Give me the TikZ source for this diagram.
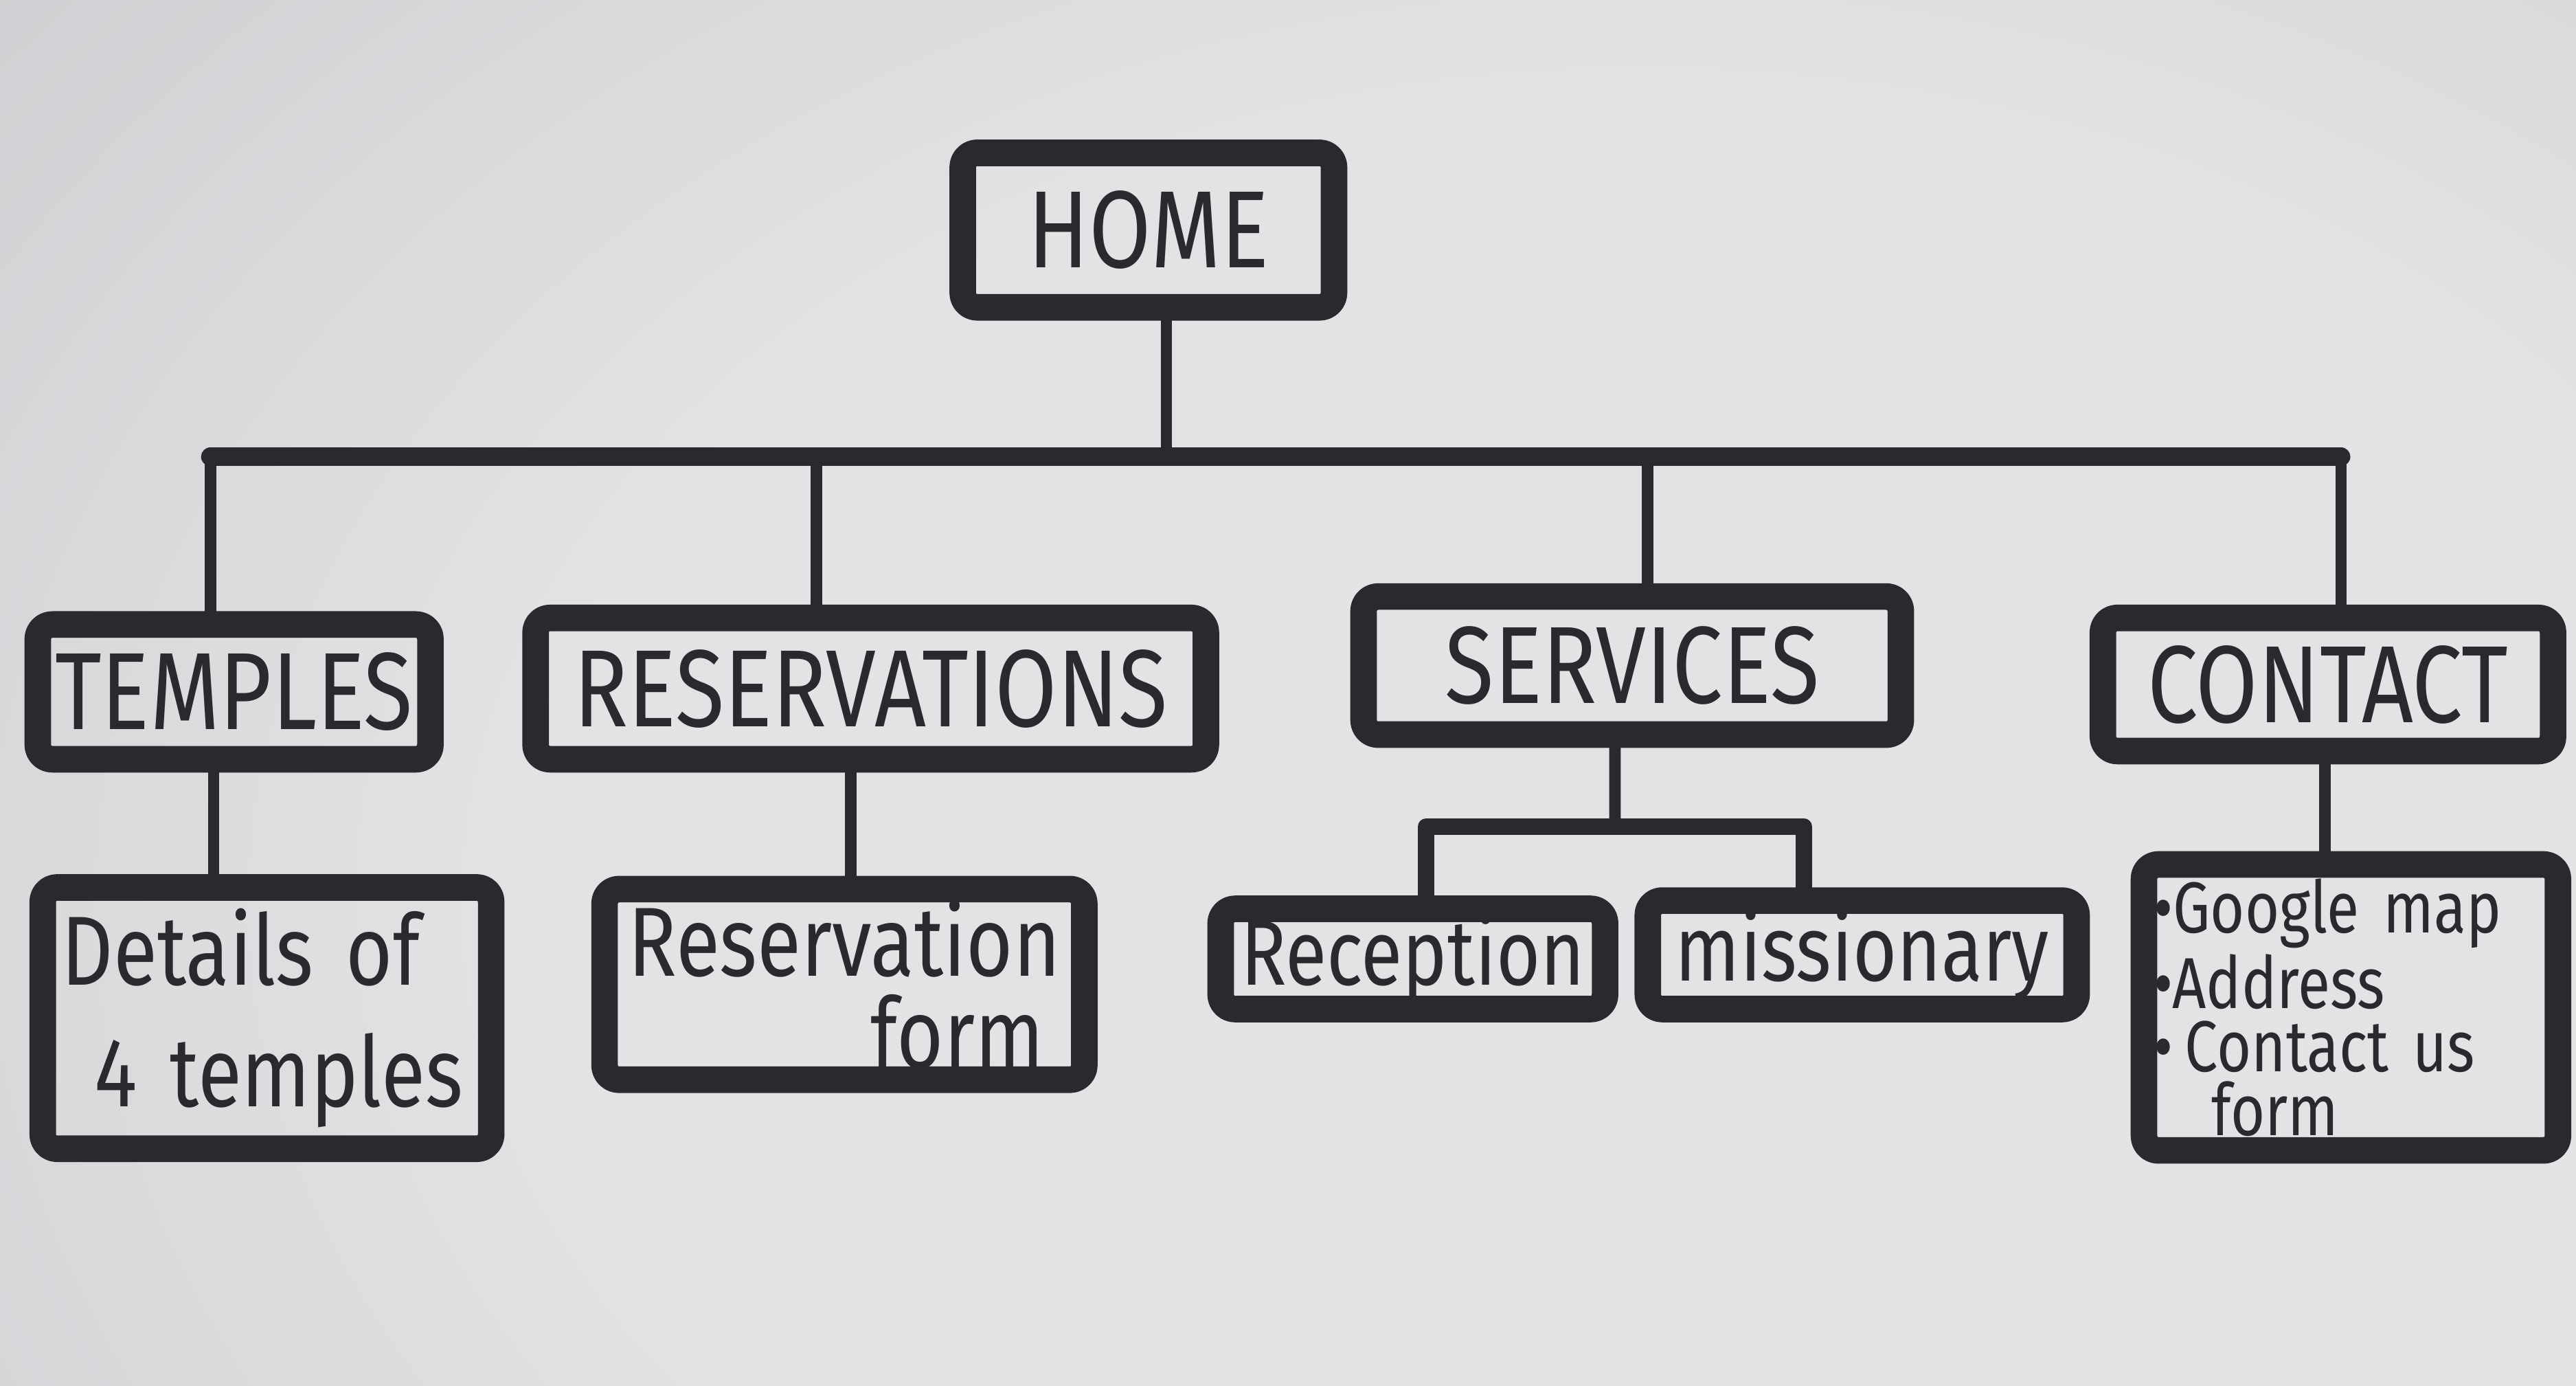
\documentclass[tikz,border=0pt]{standalone}
\usepackage{fontspec}
\newfontfamily\handfont{Fira Sans}[FakeStretch=0.82]

\definecolor{ink}{HTML}{2A2A2E}
\definecolor{paperlt}{HTML}{E3E3E5}
\definecolor{papermd}{HTML}{CDCED1}
\definecolor{paperdk}{HTML}{9D9EA2}
\definecolor{paperxd}{HTML}{88898D}

% sheet of paper, darker towards the upper left
\pgfdeclareradialshading{paper}{\pgfpoint{0bp}{0bp}}{color(0bp)=(paperlt); color(14bp)=(paperlt); color(28bp)=(papermd); color(42bp)=(paperdk); color(56bp)=(paperxd)}

\tikzset{
	box/.style={draw=ink, text=ink, line width=4.6pt, rounded corners=2.5pt, line join=round, inner sep=0pt},
	caps/.style={font=\handfont\fontsize{19}{19}\selectfont},
	small/.style={font=\handfont\fontsize{16}{16}\selectfont},
	link/.style={draw=ink, line width=2pt, line cap=round},
	bus/.style={draw=ink, line width=3.2pt, line cap=round},
	fork/.style={draw=ink, line width=2.8pt, line cap=round, line join=round}
}

\begin{document}
\begin{tikzpicture}
	\useasboundingbox (0,0) rectangle (15.68,-8.43);
	\clip (0,0) rectangle (15.68,-8.43);
	\shade[shading=paper] (-2,3) rectangle (22,-14);

	% top level
	\node[box, caps, minimum width=2.26cm, minimum height=0.94cm](home) at (6.99,-1.40){HOME};

	% sections
	\node[box, caps, minimum width=2.39cm, minimum height=0.82cm](temples) at (1.425,-4.21){TEMPLES};
	\node[box, caps, minimum width=4.08cm, minimum height=0.86cm](reservations) at (5.30,-4.19){RESERVATIONS};
	\node[box, caps, minimum width=3.27cm, minimum height=0.84cm](services) at (9.935,-4.05){SERVICES};
	\node[box, caps, minimum width=2.74cm, minimum height=0.81cm](contact) at (14.17,-4.165){CONTACT};

	% pages below the sections
	\node[box, minimum width=2.73cm, minimum height=1.59cm, text width=2.5cm, align=left, font=\handfont\fontsize{17}{21}\selectfont](details) at (1.625,-6.195){Details of\\\hspace*{0.2cm}4 temples};
	\node[box, minimum width=2.92cm, minimum height=1.16cm, align=right, font=\handfont\fontsize{17}{16}\selectfont](resform) at (5.14,-5.99){Reservation\\form\hspace*{0.1cm}};
	\node[box, small, minimum width=2.34cm, minimum height=0.61cm](reception) at (8.60,-5.835){Reception};
	\node[box, small, minimum width=2.61cm, minimum height=0.66cm](missionary) at (11.335,-5.81){missionary};
	\node[box, minimum width=2.52cm, minimum height=1.74cm, text width=2.4cm, align=left, font=\handfont\fontsize{12.5}{11}\selectfont](contactinfo) at (14.31,-6.13){\textbullet Google map\\\textbullet Address\\\textbullet\,Contact us\\\hspace*{0.35cm}form};

	\coordinate (hub) at (7.10,-2.78);
	\coordinate (split) at (9.83,-5.03);

	% home to the sections
	\draw[link] (home.south -| hub) -- (hub);
	\draw[bus] ([xshift=-1.45mm]temples.north |- hub) -- ([xshift=0.8mm]contact.north |- hub);
	\foreach \sect/\dx in {temples/-1.45mm, reservations/-3.3mm, services/0.95mm, contact/0.8mm}
		\draw[link] ([xshift=\dx]\sect.north) -- ([xshift=\dx]\sect.north |- hub);

	% sections to their pages
	\draw[link] ([xshift=-1.25mm]temples.south) -- ([xshift=-1.25mm]temples.south |- details.north);
	\draw[link] ([xshift=-1.2mm]reservations.south) -- ([xshift=-1.2mm]reservations.south |- resform.north);
	\draw[link] ([xshift=-1.05mm]services.south) -- (split);
	\draw[fork] ([xshift=0.8mm]reception.north) |- (split) -| ([xshift=-3.55mm]missionary.north);
	\draw[link] ([xshift=-0.2mm]contact.south) -- ([xshift=-0.2mm]contact.south |- contactinfo.north);
\end{tikzpicture}
\end{document}
